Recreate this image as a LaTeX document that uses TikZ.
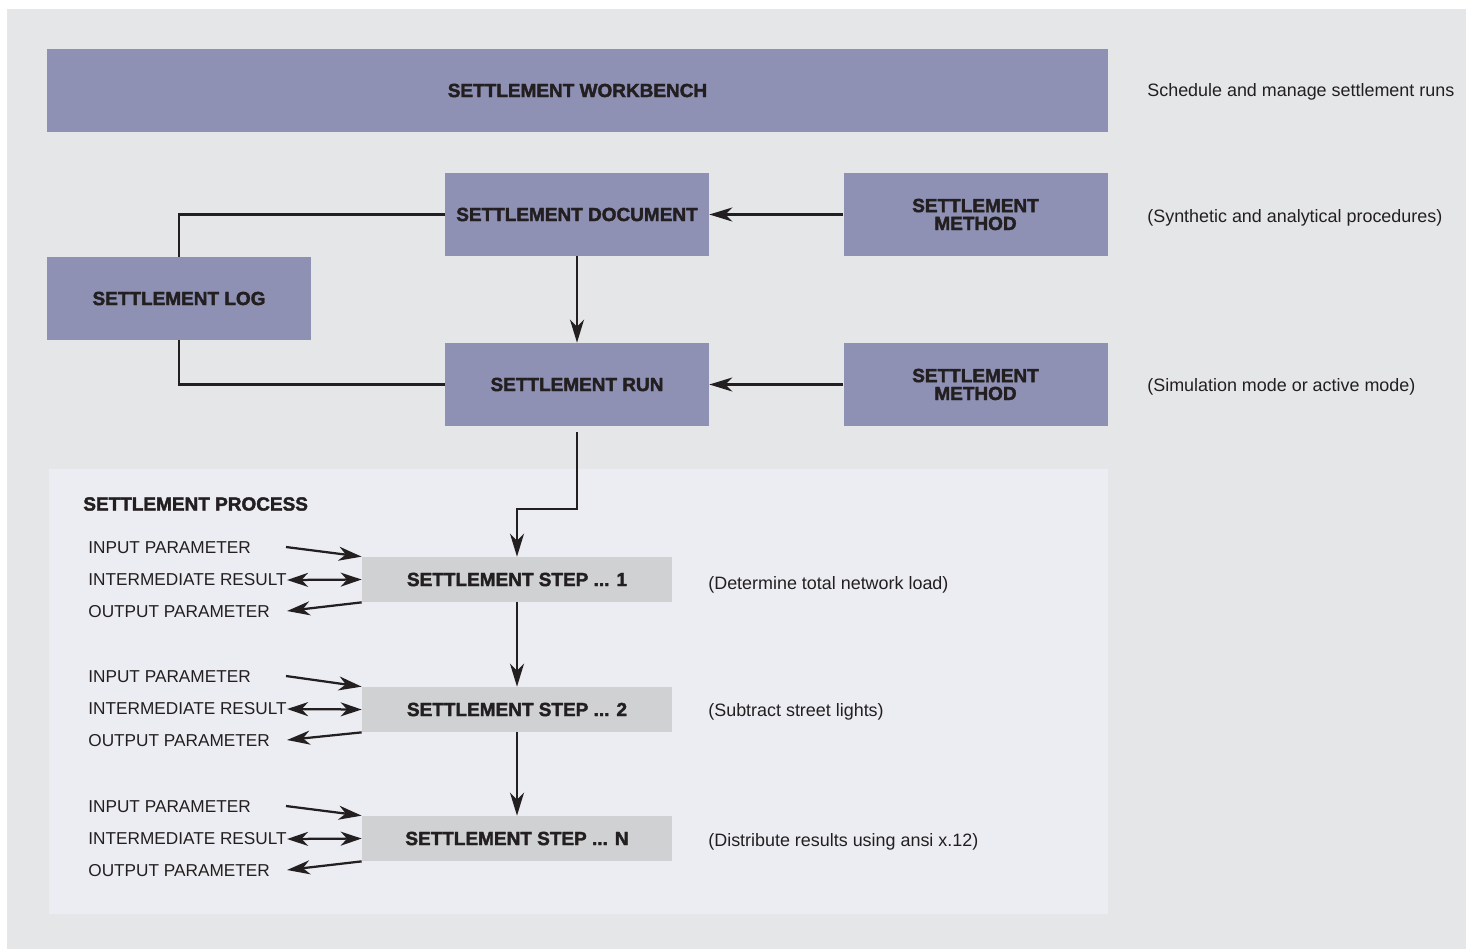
\documentclass[tikz,border=0pt]{standalone}
\usepackage{fontspec}
\setmainfont{Liberation Sans}
\usepackage{tikz}
\usetikzlibrary{arrows.meta, positioning, calc}
\newfontfamily\heavyfont[FakeBold=2]{Liberation Sans Bold}
\definecolor{wbpurple}{RGB}{142,145,180}
\definecolor{bggray}{RGB}{229,230,232}
\definecolor{panelgray}{RGB}{236,237,242}
\definecolor{stepgray}{RGB}{208,209,211}
\definecolor{ink}{RGB}{35,31,32}
\tikzstyle{block}   = [rectangle, fill=wbpurple, minimum width=52.8mm, minimum height=16.6mm,
                       inner sep=0pt, align=center, text=ink,
                       font=\heavyfont\fontsize{10.8}{10.2}\selectfont]
\tikzstyle{wide}    = [block, minimum width=212.2mm]
\tikzstyle{stepbox} = [rectangle, fill=stepgray, minimum width=62mm, minimum height=9mm,
                       inner sep=0pt, align=center, text=ink,
                       font=\heavyfont\fontsize{10.8}{12}\selectfont]
\tikzstyle{note}    = [anchor=west, inner sep=0pt, text=ink, font=\fontsize{10.2}{12}\selectfont]
\tikzstyle{param}   = [anchor=west, inner sep=0pt, text=ink, font=\fontsize{9.8}{12}\selectfont]
\tikzstyle{line}    = [draw=ink, line width=0.45mm]
\tikzstyle{arr}     = [line, -{Stealth[length=4.6mm, width=2.8mm, inset=1.4mm]}]
\tikzstyle{dblarr}  = [line, {Stealth[length=4.2mm, width=2.8mm, inset=1.3mm]}-{Stealth[length=4.2mm, width=2.8mm, inset=1.3mm]}]

\begin{document}
\begin{tikzpicture}[x=0.2mm, y=-0.2mm]
    \useasboundingbox (0,0) rectangle (1474,949);
    \fill[bggray] (7,9) rectangle (1466,949);
    \fill[panelgray] (49,469) rectangle (1108,914);

    % upper part
    \node[wide] (bench) at (577.5,90.5) {SETTLEMENT WORKBENCH};
    \node[block] (doc) at (577,214.5) {SETTLEMENT DOCUMENT};
    \node[block] (method1) at (975.5,214.5) {SETTLEMENT\\METHOD};
    \node[block] (log) at (179,298.5) {SETTLEMENT LOG};
    \node[block] (run) at (577,384.5) {SETTLEMENT RUN};
    \node[block] (method2) at (975.5,384.5) {SETTLEMENT\\METHOD};

    \node[note] (benchnote) at (1147,92) {Schedule and manage settlement runs};
    \node[note] (docnote) at (1147,218) {(Synthetic and analytical procedures)};
    \node[note] (runnote) at (1147,387) {(Simulation mode or active mode)};

    \draw[arr] (method1.west) -- (doc.east);
    \draw[arr] (method2.west) -- (run.east);
    \draw[arr] (doc.south) -- (run.north);
    \draw[line] (doc.west) -| (log.north);
    \draw[line] (log.south) |- (run.west);

    % settlement process
    \node[anchor=west, inner sep=0pt, text=ink, font=\heavyfont\fontsize{10.8}{12}\selectfont]
         (process) at (83,504) {SETTLEMENT PROCESS};

    \node[stepbox] (step1) at (517,579.5) {SETTLEMENT STEP ... 1};
    \node[stepbox] (step2) at (517,709.5) {SETTLEMENT STEP ... 2};
    \node[stepbox] (stepn) at (517,838.5) {SETTLEMENT STEP ... N};

    \node[note] (note1) at (708,585) {(Determine total network load)};
    \node[note] (note2) at (708,712) {(Subtract street lights)};
    \node[note] (noten) at (708,842) {(Distribute results using ansi x.12)};

    \draw[arr, shorten <=1.2mm] (run.south) -- ++(0,83) -| (step1.north);
    \draw[arr] (step1.south) -- (step2.north);
    \draw[arr] (step2.south) -- (stepn.north);

    % parameters of step 1
    \node[param] (in1) at (88,548) {INPUT PARAMETER};
    \node[param] (mid1) at (88,580) {INTERMEDIATE RESULT};
    \node[param] (out1) at (88,612) {OUTPUT PARAMETER};
    \coordinate (in1end) at (286,547);
    \coordinate (out1end) at (287,611);
    \draw[arr] (in1end) -- (step1.north west);
    \draw[dblarr] (mid1.east) -- (step1.west);
    \draw[arr] (step1.south west) -- (out1end);

    % parameters of step 2
    \node[param] (in2) at (88,677) {INPUT PARAMETER};
    \node[param] (mid2) at (88,709) {INTERMEDIATE RESULT};
    \node[param] (out2) at (88,741) {OUTPUT PARAMETER};
    \coordinate (in2end) at (286,676);
    \coordinate (out2end) at (287,740);
    \draw[arr] (in2end) -- (step2.north west);
    \draw[dblarr] (mid2.east) -- (step2.west);
    \draw[arr] (step2.south west) -- (out2end);

    % parameters of step n
    \node[param] (inn) at (88,807) {INPUT PARAMETER};
    \node[param] (midn) at (88,839) {INTERMEDIATE RESULT};
    \node[param] (outn) at (88,871) {OUTPUT PARAMETER};
    \coordinate (innend) at (286,806);
    \coordinate (outnend) at (287,870);
    \draw[arr] (innend) -- (stepn.north west);
    \draw[dblarr] (midn.east) -- (stepn.west);
    \draw[arr] (stepn.south west) -- (outnend);
\end{tikzpicture}
\end{document}
